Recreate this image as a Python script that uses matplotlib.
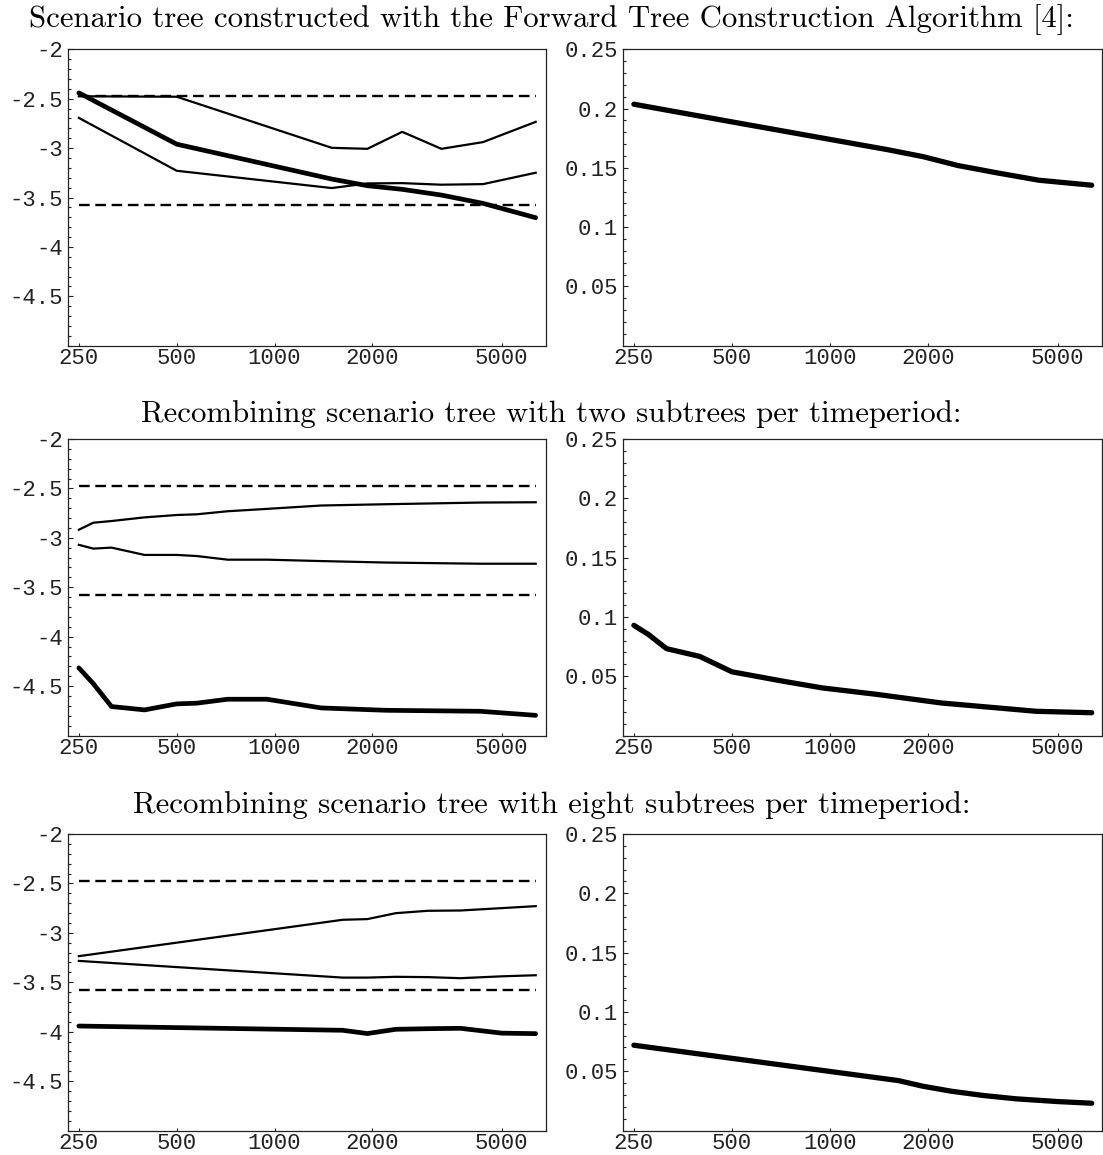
import matplotlib
matplotlib.use("Agg")
import matplotlib.pyplot as plt
from matplotlib.ticker import FixedLocator, FixedFormatter, MultipleLocator, NullLocator

plt.rcParams.update(
    {
        "font.family": "Liberation Mono",
        "axes.unicode_minus": False,
        "axes.linewidth": 0.9,
        "axes.edgecolor": "#222222",
    }
)

titles = [
    "Scenario tree constructed with the Forward Tree Construction Algorithm [4]:",
    "Recombining scenario tree with two subtrees per timeperiod:",
    "Recombining scenario tree with eight subtrees per timeperiod:",
]

xticks = [250, 500, 1000, 2000, 5000]
xlabels = ["250", "500", "1000", "2000", "5000"]
left_yticks = [-4.5, -4, -3.5, -3, -2.5, -2]
left_ylabels = ["-4.5", "-4", "-3.5", "-3", "-2.5", "-2"]
right_yticks = [0.05, 0.1, 0.15, 0.2, 0.25]
right_ylabels = ["0.05", "0.1", "0.15", "0.2", "0.25"]
bounds = [-2.475, -3.58]

# forward tree construction
n1 = [250, 500, 1500, 1930, 2470, 3260, 4380, 6360]
upper1 = [-2.475, -2.48, -2.997, -3.007, -2.835, -3.007, -2.939, -2.734]
lower1 = [-2.694, -3.229, -3.404, -3.357, -3.354, -3.370, -3.364, -3.249]
mean1 = [-2.441, -2.960, -3.313, -3.380, -3.417, -3.475, -3.559, -3.704]
err1 = [0.2037, 0.1888, 0.1654, 0.1595, 0.1520, 0.1458, 0.1396, 0.1354]

# two subtrees
n2 = [250, 277, 315, 398, 500, 576, 717, 948, 1390, 2200, 4300, 6360]
upper2 = [-2.918, -2.847, -2.830, -2.793, -2.769, -2.762, -2.731, -2.707, -2.673, -2.660, -2.643, -2.640]
lower2 = [-3.071, -3.109, -3.099, -3.173, -3.173, -3.184, -3.221, -3.221, -3.235, -3.250, -3.262, -3.262]
mean2 = [-4.316, -4.476, -4.707, -4.741, -4.680, -4.673, -4.633, -4.633, -4.721, -4.745, -4.755, -4.796]
err2 = [0.0929, 0.0852, 0.0732, 0.0667, 0.0537, 0.0506, 0.0458, 0.0401, 0.0347, 0.0274, 0.0204, 0.0192]

# eight subtrees
n3 = [250, 1620, 1930, 2360, 2960, 3730, 5000, 6360]
upper3 = [-3.236, -2.868, -2.861, -2.801, -2.777, -2.774, -2.750, -2.730]
lower3 = [-3.284, -3.453, -3.453, -3.445, -3.448, -3.459, -3.440, -3.429]
mean3 = [-3.943, -3.986, -4.019, -3.976, -3.970, -3.966, -4.015, -4.020]
err3 = [0.0719, 0.0421, 0.0373, 0.0331, 0.0295, 0.0267, 0.0244, 0.0230]

rows = [
    (n1, upper1, lower1, mean1, err1),
    (n2, upper2, lower2, mean2, err2),
    (n3, upper3, lower3, mean3, err3),
]

W, H = 1103, 1155
row_tops = [49.3, 439.0, 834.0]
title_base = [26.7, 421.7, 813.3]
ax_h = 296.5


def style_axes(ax, yticks, ylabels, minor):
    ax.set_xscale("log")
    ax.set_xlim(231, 6850)
    ax.xaxis.set_major_locator(FixedLocator(xticks))
    ax.xaxis.set_major_formatter(FixedFormatter(xlabels))
    ax.xaxis.set_minor_locator(NullLocator())
    ax.yaxis.set_major_locator(FixedLocator(yticks))
    ax.yaxis.set_major_formatter(FixedFormatter(ylabels))
    ax.yaxis.set_minor_locator(MultipleLocator(minor))
    ax.tick_params(which="both", direction="in", top=False, right=False,
                   labelsize=16, colors="#222222", width=0.8)
    ax.tick_params(axis="y", which="major", length=3.6, pad=3.5)
    ax.tick_params(axis="y", which="minor", length=2.0)
    ax.tick_params(axis="x", which="major", length=2.5, pad=1.5)


fig = plt.figure(figsize=(W / 100, H / 100), dpi=100)

for i, (n, up, lo, mean, err) in enumerate(rows):
    bottom = 1 - (row_tops[i] + ax_h) / H
    axl = fig.add_axes([67.7 / W, bottom, 478.5 / W, ax_h / H])
    axr = fig.add_axes([622.7 / W, bottom, 479.5 / W, ax_h / H])

    for b in bounds:
        axl.plot([n[0], n[-1]], [b, b], color="black", lw=1.7, dashes=(4.5, 2.4))
    axl.plot(n, up, color="black", lw=1.6, solid_joinstyle="round")
    axl.plot(n, lo, color="black", lw=1.6, solid_joinstyle="round")
    axl.plot(n, mean, color="black", lw=3.4, solid_capstyle="round", solid_joinstyle="round")
    axl.set_ylim(-5, -2)
    style_axes(axl, left_yticks, left_ylabels, 0.1)

    axr.plot(n, err, color="black", lw=3.8, solid_capstyle="round", solid_joinstyle="round")
    axr.set_ylim(0, 0.25)
    style_axes(axr, right_yticks, right_ylabels, 0.01)

    fig.text(0.5, 1 - title_base[i] / H, titles[i], ha="center", va="baseline",
             family="cmr10", fontsize=22.2)

fig.savefig("out.png", dpi=100)
